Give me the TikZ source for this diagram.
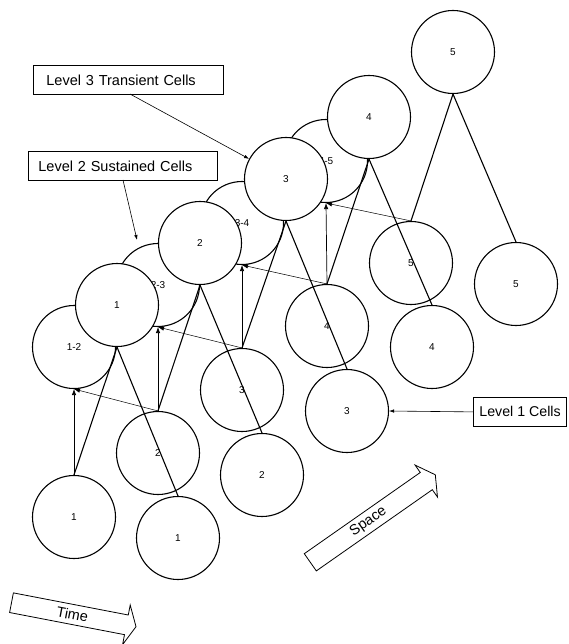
\documentclass[tikz,border=0pt]{standalone}
\usepackage{fontspec}
\setmainfont{Liberation Sans}
\usetikzlibrary{arrows.meta}
\begin{document}
\begin{tikzpicture}[x=1pt,y=-1pt,
  cell/.style={circle, draw, line width=1.1pt, fill=white, minimum size=83pt, inner sep=0pt, font=\fontsize{10}{12}\selectfont},
  link/.style={line width=1.1pt},
  feed/.style={line width=0.7pt, -{Latex[length=6pt,width=4.5pt]}},
  feedthin/.style={line width=0.5pt, -{Latex[length=6pt,width=4.5pt]}},
  lbl/.style={draw, line width=0.8pt, minimum height=29pt, align=left, font=\fontsize{14.5}{17}\selectfont, anchor=north west},
  callout/.style={line width=0.6pt, -{Latex[length=5pt,width=3.5pt]}},
  bigarrow/.style={draw, line width=0.8pt, line join=miter},
  arrowtext/.style={font=\fontsize{14.5}{17}\selectfont},
]
\useasboundingbox (0,0) rectangle (569,644);

% Level 2 sustained cells
\node[cell] (S12) at (74,347) {1-2};
\node[cell] (S23) at (158,285) {2-3};
\node[cell] (S34) at (242,223) {3-4};
\node[cell] (S45) at (326,161) {4-5};

% Level 3 transient cells
\node[cell] (T1) at (117,305) {1};
\node[cell] (T2) at (200,243) {2};
\node[cell] (T3) at (286,179) {3};
\node[cell] (T4) at (369,117) {4};
\node[cell] (T5) at (453,52) {5};

% Level 1 cells
\node[cell] (A1) at (74,517) {1};
\node[cell] (A2) at (158,453) {2};
\node[cell] (A3) at (242,390) {3};
\node[cell] (A4) at (327,326) {4};
\node[cell] (A5) at (411,263) {5};
\node[cell] (B1) at (178,538) {1};
\node[cell] (B2) at (262,475) {2};
\node[cell] (B3) at (347,411) {3};
\node[cell] (B4) at (432,347) {4};
\node[cell] (B5) at (516,284) {5};

% connections from transient cells down to level 1 cells
\foreach \n in {1,...,5}{
  \draw[link] (T\n.south) -- (A\n.north);
  \draw[link] (T\n.south) -- (B\n.north);
}

% feeds into sustained cells
\foreach \n/\m in {1/2,2/3,3/4,4/5}{
  \draw[feed] (A\n.north) -- (S\n\m.south);
  \draw[feedthin] (A\m.north) -- (S\n\m.south);
}

% labels
\node[lbl, inner xsep=13pt, text width=164pt] (L3) at (33,65) {Level 3 Transient Cells};
\node[lbl, inner xsep=10pt, text width=169pt] (L2) at (28,151) {Level 2 Sustained Cells};
\node[lbl, inner xsep=6pt, font=\fontsize{14.2}{17}\selectfont] (L1) at (473,397) {Level 1 Cells};

\coordinate (L3foot) at (130,94);
\coordinate (L2foot) at (123,180);
\coordinate (L2tip) at (137,240);
\draw[callout] (L3foot) -- (T3);
\draw[callout] (L2foot) -- (L2tip);
\draw[callout] (L1.west) -- (B3.east);

% Time arrow
\begin{scope}[shift={(11.5,602.7)}, rotate=-10.9]
  \draw[bigarrow] (0,-10) -- (117,-10) -- (117,-20.2) -- (126.8,0) -- (117,20.2) -- (117,10) -- (0,10) -- cycle;
  \node[arrowtext, rotate=-10.9] (time) at (62,0) {Time};
\end{scope}

% Space arrow
\begin{scope}[shift={(310.3,562.3)}, rotate=35]
  \draw[bigarrow] (0,-10.5) -- (141.6,-10.5) -- (141.6,-19.5) -- (152.6,0) -- (141.6,19.5) -- (141.6,10.5) -- (0,10.5) -- cycle;
  \node[arrowtext, rotate=35] (space) at (71,0) {Space};
\end{scope}
\end{tikzpicture}
\end{document}
